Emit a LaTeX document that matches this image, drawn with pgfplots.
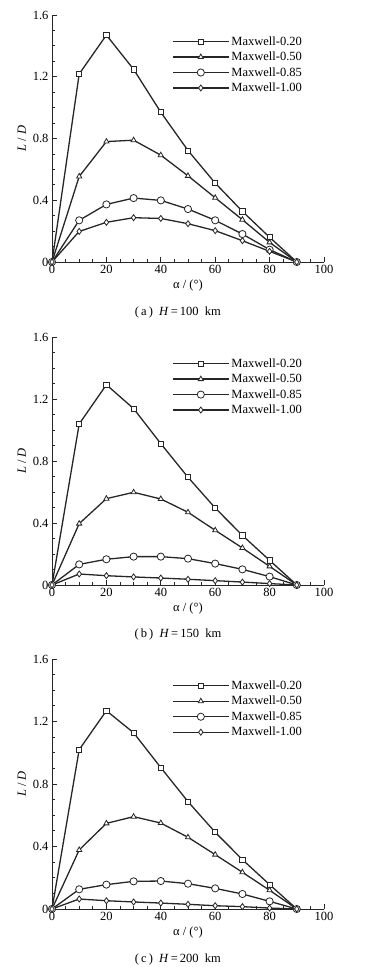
\documentclass[border=0pt]{standalone}
\usepackage{fontspec}
\setmainfont{Liberation Serif}
\usepackage{pgfplots}
\pgfplotsset{compat=1.18}
\pgfplotsset{
  myaxis/.style={
    width=272pt, scale only axis,
    xmin=0, xmax=100, ymin=0, ymax=1.6,
    axis x line*=bottom, axis y line*=left,
    axis line style={-, line width=0.9pt, black!85},
    xtick={0,20,...,100}, ytick={0,0.4,0.8,1.2,1.6},
    yticklabels={0,0.4,0.8,1.2,1.6},
    minor x tick num=3, minor y tick num=3,
    tick align=inside,
    major tick length=5pt, minor tick length=3pt,
    tick style={line width=0.8pt, black!85},
    ticklabel style={font=\fontsize{12.5}{14}\selectfont},
    /pgf/number format/assume math mode=true,
    xlabel={α / (°)}, ylabel={\textit{L} / \textit{D}},
    label style={font=\fontsize{12.5}{14}\selectfont},
    xlabel style={yshift=1pt},
    clip=false,
    legend style={at={(axis description cs:0.43,0.93)}, anchor=north west,
      draw=none, fill=none, font=\fontsize{12.5}{14}\selectfont,
      row sep=1.3pt, cells={anchor=west}},
    legend image code/.code={\draw[mark repeat=2,mark phase=2,#1] plot coordinates {(0pt,0pt) (28pt,0pt) (56pt,0pt)};},
    every axis plot/.append style={line width=1.3pt, black!85, mark options={fill=white, line width=0.8pt, solid}},
  },
  s1/.style={mark=square*, mark size=2.6pt},
  s2/.style={mark=triangle*, mark size=3pt},
  s3/.style={mark=*, mark size=3.6pt},
  s4/.style={mark=diamond*, mark size=3pt},
}
\begin{document}
\begin{tikzpicture}
\path[use as bounding box] (0pt,0pt) rectangle (382pt,967pt);
% (a)
\begin{axis}[myaxis, height=247pt, at={(52pt,705pt)}, anchor=south west]
\addplot[s1] coordinates {(0,0) (10,1.218) (20,1.47) (30,1.248) (40,0.970) (50,0.722) (60,0.511) (70,0.328) (80,0.160) (90,0)};
\addplot[s2] coordinates {(0,0) (10,0.554) (20,0.780) (30,0.789) (40,0.692) (50,0.558) (60,0.416) (70,0.274) (80,0.127) (90,0)};
\addplot[s3] coordinates {(0,0) (10,0.270) (20,0.373) (30,0.414) (40,0.399) (50,0.343) (60,0.270) (70,0.181) (80,0.080) (90,0)};
\addplot[s4] coordinates {(0,0) (10,0.198) (20,0.257) (30,0.287) (40,0.282) (50,0.248) (60,0.203) (70,0.138) (80,0.069) (90,0)};
\legend{Maxwell-0.20,Maxwell-0.50,Maxwell-0.85,Maxwell-1.00}
\node[font=\fontsize{12.5}{14}\selectfont] at (axis description cs:0.463,-0.205) {(\,a\,)\enspace\textit{H}\,=\,100\enspace km};
\end{axis}
% (b)
\begin{axis}[myaxis, height=248pt, at={(52pt,382pt)}, anchor=south west]
\addplot[s1] coordinates {(0,0) (10,1.039) (20,1.292) (30,1.138) (40,0.912) (50,0.695) (60,0.497) (70,0.320) (80,0.159) (90,0)};
\addplot[s2] coordinates {(0,0) (10,0.396) (20,0.557) (30,0.598) (40,0.555) (50,0.469) (60,0.353) (70,0.239) (80,0.120) (90,0)};
\addplot[s3] coordinates {(0,0) (10,0.133) (20,0.166) (30,0.183) (40,0.183) (50,0.170) (60,0.138) (70,0.101) (80,0.054) (90,0)};
\addplot[s4] coordinates {(0,0) (10,0.071) (20,0.060) (30,0.052) (40,0.045) (50,0.037) (60,0.028) (70,0.019) (80,0.009) (90,0)};
\legend{Maxwell-0.20,Maxwell-0.50,Maxwell-0.85,Maxwell-1.00}
\node[font=\fontsize{12.5}{14}\selectfont] at (axis description cs:0.463,-0.2) {(\,b\,)\enspace\textit{H}\,=\,150\enspace km};
\end{axis}
% (c)
\begin{axis}[myaxis, height=250pt, at={(52pt,58pt)}, anchor=south west]
\addplot[s1] coordinates {(0,0) (10,1.020) (20,1.269) (30,1.128) (40,0.905) (50,0.687) (60,0.491) (70,0.316) (80,0.156) (90,0)};
\addplot[s2] coordinates {(0,0) (10,0.378) (20,0.548) (30,0.591) (40,0.550) (50,0.459) (60,0.348) (70,0.235) (80,0.120) (90,0)};
\addplot[s3] coordinates {(0,0) (10,0.126) (20,0.156) (30,0.177) (40,0.179) (50,0.162) (60,0.132) (70,0.096) (80,0.049) (90,0)};
\addplot[s4] coordinates {(0,0) (10,0.064) (20,0.053) (30,0.045) (40,0.038) (50,0.030) (60,0.021) (70,0.015) (80,0.006) (90,0)};
\legend{Maxwell-0.20,Maxwell-0.50,Maxwell-0.85,Maxwell-1.00}
\node[font=\fontsize{12.5}{14}\selectfont] at (axis description cs:0.463,-0.2) {(\,c\,)\enspace\textit{H}\,=\,200\enspace km};
\end{axis}
\end{tikzpicture}
\end{document}
